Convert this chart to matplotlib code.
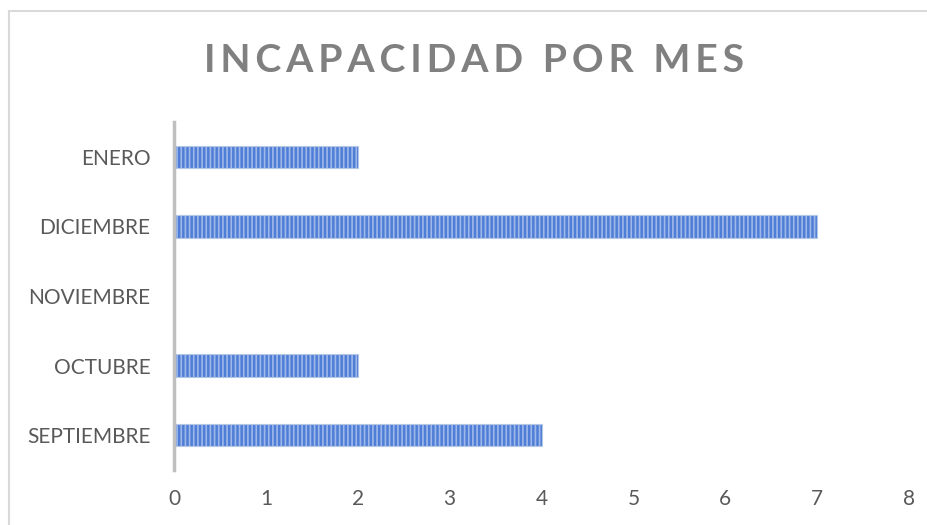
import matplotlib.pyplot as plt
from matplotlib.patches import Rectangle

months = ["SEPTIEMBRE", "OCTUBRE", "NOVIEMBRE", "DICIEMBRE", "ENERO"]
days = [4, 2, 0, 7, 2]
x_ticks = [0, 1, 2, 3, 4, 5, 6, 7, 8]

plt.rcParams['font.family'] = ['Lato', 'DejaVu Sans']
plt.rcParams['hatch.linewidth'] = 1.2

fig = plt.figure(figsize=(9.27, 5.25), dpi=100)
fig.patches.append(Rectangle((9 / 927, -0.1), 1.2, (525 - 11) / 525 + 0.1,
                             transform=fig.transFigure, fill=False,
                             edgecolor='#d9d9d9', linewidth=1.5))

ax = fig.add_axes([174 / 927, 1 - 470 / 525, (909 - 174) / 927, (470 - 122) / 525])
pos = range(len(months))
ax.barh(pos, days, height=0.32, color='#4f7ed6', edgecolor='#9fb8ea',
        hatch='||||', linewidth=0)
ax.barh(pos, days, height=0.32, color='none', edgecolor='#b4c7e7', linewidth=0.8)

ax.set_xlim(0, 8)
ax.set_ylim(-0.5, len(months) - 0.5)
ax.set_yticks(list(pos))
ax.set_yticklabels(months)
ax.set_xticks(x_ticks)
ax.set_xticklabels([str(t) for t in x_ticks])
ax.tick_params(axis='both', length=0, labelsize=15, labelcolor='#595959')
ax.tick_params(axis='x', pad=14)
ax.tick_params(axis='y', pad=17)
for s in ['top', 'right', 'bottom']:
    ax.spines[s].set_visible(False)
ax.spines['left'].set_color('#bfbfbf')
ax.spines['left'].set_linewidth(2.5)

title = "INCAPACIDAD POR MES"
spaced = "\u2009".join(title).replace("\u2009 \u2009", "\u2002")
fig.text(474 / 927, 1 - 60 / 525, spaced,
         ha='center', va='center', fontsize=28.3, fontweight='bold', color='#808080')

fig.savefig('out.png', dpi=100)
